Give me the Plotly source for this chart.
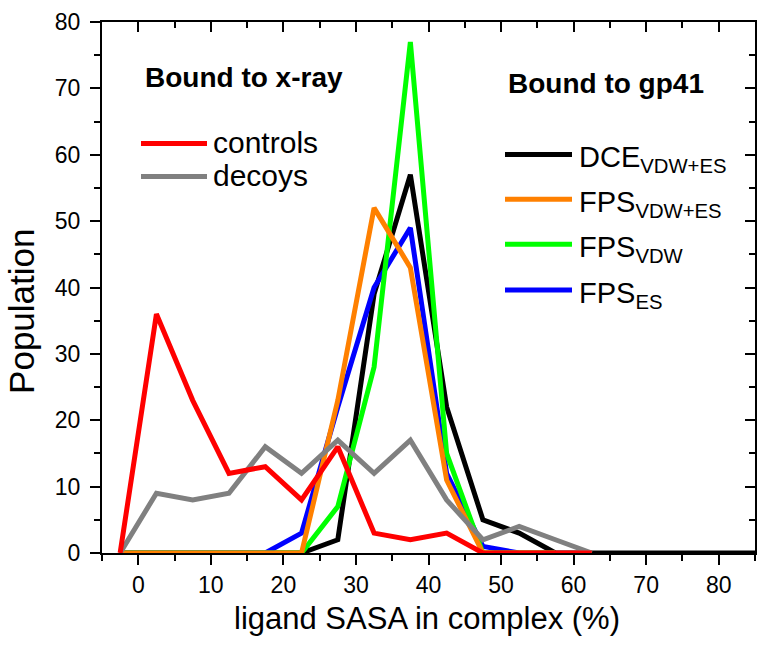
import plotly.graph_objects as go

# ---------------- data ----------------
bin_centers = [-2.5, 2.5, 7.5, 12.5, 17.5, 22.5, 27.5, 32.5, 37.5, 42.5,
               47.5, 52.5, 57.5, 62.5, 67.5, 72.5, 77.5, 82.5, 87.5]

controls = [0, 36, 23, 12, 13, 8, 16, 3, 2, 3, 0, 0, 0, 0]
decoys = [0, 9, 8, 9, 16, 12, 17, 12, 17, 8, 2, 4, 2, 0]

dce_vdw_es = [0, 0, 0, 0, 0, 0, 2, 39, 57, 22, 5, 3, 0, 0, 0, 0, 0, 0, 0]
fps_vdw_es = [0, 0, 0, 0, 0, 0, 23, 52, 43, 11, 0, 0, 0]
fps_vdw = [0, 0, 0, 0, 0, 0, 7, 28, 77, 15, 0, 0, 0]
fps_es = [0, 0, 0, 0, 0, 3, 22, 40, 49, 12, 1, 0, 0]

x_ticks = [0, 10, 20, 30, 40, 50, 60, 70, 80]
y_ticks = [0, 10, 20, 30, 40, 50, 60, 70, 80]

FONT = "Liberation Sans, Arial, Helvetica, sans-serif"

# drawing order (bottom first); x-ray series go on the mirrored axes pair
series = [
    ("DCE<sub>VDW+ES</sub>", dce_vdw_es, "#000000", "x", "y"),
    ("FPS<sub>ES</sub>", fps_es, "#0000FF", "x", "y"),
    ("FPS<sub>VDW</sub>", fps_vdw, "#00FF00", "x", "y"),
    ("FPS<sub>VDW+ES</sub>", fps_vdw_es, "#FF8000", "x", "y"),
    ("decoys", decoys, "#808080", "x2", "y2"),
    ("controls", controls, "#FF0000", "x2", "y2"),
]

fig = go.Figure()
for name, vals, col, xa, ya in series:
    fig.add_trace(go.Scatter(
        x=bin_centers[:len(vals)], y=vals, mode="lines", name=name,
        line=dict(color=col, width=5), showlegend=False,
        xaxis=xa, yaxis=ya,
    ))

W, H = 764, 649
ML, MR, MT, MB = 102, 9, 20, 96
PW = W - ML - MR
PH = H - MT - MB


def px(xp):
    return (xp - ML) / PW


def py(yp):
    return (MT + PH - yp) / PH


axis_common = dict(
    showgrid=False, zeroline=False, showline=True, linecolor="black",
    linewidth=2, tickcolor="black", tickwidth=2, ticklen=10,
)
minor_out = dict(ticks="outside", dtick=5, tick0=0, ticklen=6,
                 tickwidth=2, tickcolor="black")
minor_in = dict(ticks="inside", dtick=5, tick0=0, ticklen=6,
                tickwidth=2, tickcolor="black")

fig.update_layout(
    width=W, height=H, autosize=False,
    margin=dict(l=ML, r=MR, t=MT, b=MB, pad=0),
    plot_bgcolor="white", paper_bgcolor="white",
    font=dict(family=FONT, color="black", size=23),
    xaxis=dict(
        range=[-5, 85], tickmode="array", tickvals=x_ticks,
        ticks="outside", ticklabelstandoff=0,
        tickfont=dict(size=23, family=FONT, color="black"),
        minor=minor_out, **axis_common,
    ),
    yaxis=dict(
        range=[0, 80], tickmode="array", tickvals=y_ticks,
        ticks="outside", ticklabelstandoff=5,
        tickfont=dict(size=23, family=FONT, color="black"),
        minor=minor_out, **axis_common,
    ),
    xaxis2=dict(
        range=[-5, 85], overlaying="x", side="top", anchor="y2",
        tickmode="array", tickvals=x_ticks, ticks="inside",
        showticklabels=False, minor=minor_in, **axis_common,
    ),
    yaxis2=dict(
        range=[0, 80], overlaying="y", side="right", anchor="x2",
        tickmode="array", tickvals=y_ticks, ticks="inside",
        showticklabels=False, minor=minor_in, **axis_common,
    ),
    showlegend=False,
)

annotations = []
shapes = []

# axis titles
annotations.append(dict(
    text="ligand SASA in complex (%)", xref="paper", yref="paper",
    x=px(427), y=py(619), xanchor="center", yanchor="middle",
    showarrow=False, font=dict(size=31, family=FONT, color="black"),
))
annotations.append(dict(
    text="Population", xref="paper", yref="paper",
    x=px(22), y=py(311), xanchor="center", yanchor="middle",
    textangle=-90, showarrow=False,
    font=dict(size=35, family=FONT, color="black"),
))

# custom legends
annotations.append(dict(
    text="<b>Bound to x-ray</b>", xref="paper", yref="paper",
    x=px(143), y=py(76), xanchor="left", yanchor="middle",
    showarrow=False, font=dict(size=28, family=FONT, color="black"),
))
annotations.append(dict(
    text="<b>Bound to gp41</b>", xref="paper", yref="paper",
    x=px(506), y=py(82), xanchor="left", yanchor="middle",
    showarrow=False, font=dict(size=28, family=FONT, color="black"),
))

legend_left = [("controls", "#FF0000", 142), ("decoys", "#808080", 175)]
for label, col, yc in legend_left:
    shapes.append(dict(type="line", xref="paper", yref="paper",
                       x0=px(141), x1=px(207), y0=py(yc), y1=py(yc),
                       line=dict(color=col, width=5)))
    annotations.append(dict(
        text=label, xref="paper", yref="paper",
        x=px(211), y=py(yc - 1), xanchor="left", yanchor="middle",
        showarrow=False, font=dict(size=30, family=FONT, color="black"),
    ))

legend_right = [
    ("DCE<sub>VDW+ES</sub>", "#000000", 153),
    ("FPS<sub>VDW+ES</sub>", "#FF8000", 198),
    ("FPS<sub>VDW</sub>", "#00FF00", 243),
    ("FPS<sub>ES</sub>", "#0000FF", 289),
]
for label, col, yc in legend_right:
    shapes.append(dict(type="line", xref="paper", yref="paper",
                       x0=px(505), x1=px(572), y0=py(yc), y1=py(yc),
                       line=dict(color=col, width=5)))
    annotations.append(dict(
        text=label, xref="paper", yref="paper",
        x=px(577), y=py(yc + 5), xanchor="left", yanchor="middle",
        showarrow=False, font=dict(size=29, family=FONT, color="black"),
    ))

fig.update_layout(annotations=annotations, shapes=shapes)

fig.write_html("out.html",
               config={"displayModeBar": False},
               post_script="document.body.style.margin='0px';")
